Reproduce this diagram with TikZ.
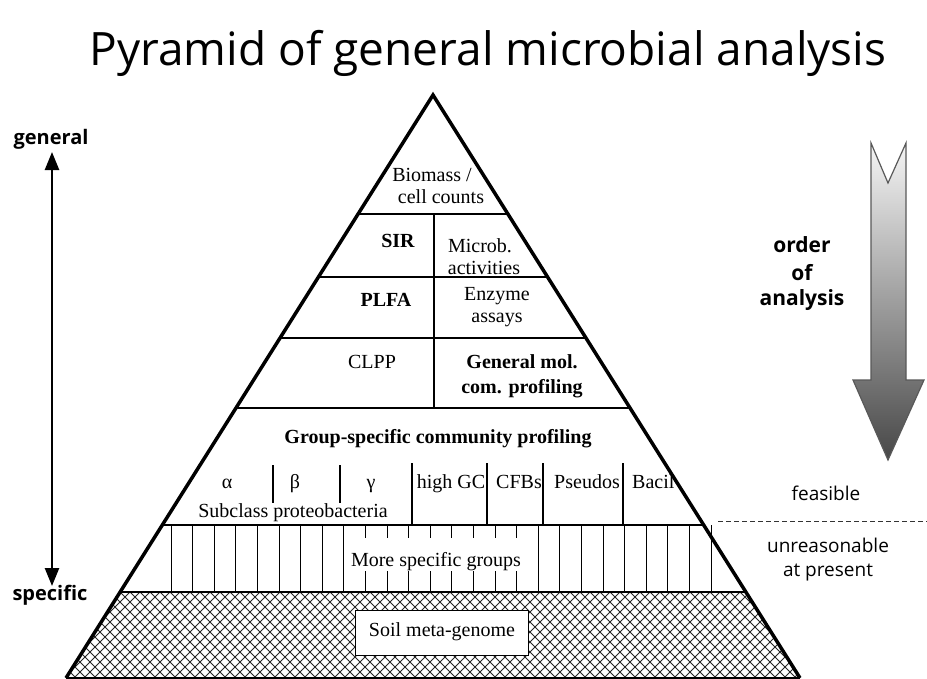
\documentclass[tikz,border=0pt]{standalone}
\usepackage{fontspec}
\setmainfont{Liberation Serif}
\newfontfamily\comicfont{Open Sans}
\usetikzlibrary{arrows.meta}
\begin{document}
\begin{tikzpicture}[x=1pt,y=-1pt,
  txt/.style={font=\fontsize{20}{22}\selectfont, inner sep=0pt, anchor=base},
  btxt/.style={font=\fontsize{20}{22}\selectfont\bfseries, inner sep=0pt, anchor=base},
  ctxt/.style={font=\comicfont\fontsize{19}{21}\selectfont, inner sep=0pt, anchor=base},
  cbtxt/.style={font=\comicfont\fontsize{20}{22}\selectfont\bfseries, inner sep=0pt, anchor=base},
  pedge/.style={line width=3.5pt, line join=miter},
  rule/.style={line width=1.3pt},
  thinrule/.style={line width=1pt},
  hatch/.style={line width=0.8pt, black!85},
]
\useasboundingbox[fill=white] (0,0) rectangle (927,678);

% title
\node[anchor=base, inner sep=0pt, font=\comicfont\fontsize{46}{50}\selectfont] (title) at (488,65) {Pyramid of general microbial analysis};

% pyramid corners
\coordinate (apex) at (433,95);
\coordinate (bl) at (66,678);
\coordinate (br) at (800,678);

% hatched base
\begin{scope}
  \clip (120.1,592) -- (745.9,592) -- (br) -- (bl) -- cycle;
  \foreach \i in {-100,-90,...,900} {
    \draw[hatch] (\i,592) -- ++(90,90);
    \draw[hatch] (\i,592) -- ++(-90,90);
  }
\end{scope}

% horizontal rules
\draw[rule] (358.1,214) -- (507.9,214);
\draw[rule] (318.4,277) -- (547.6,277);
\draw[rule] (280.0,338) -- (586.0,338);
\draw[rule] (236.0,408) -- (630.0,408);
\draw[line width=1.6pt] (162.3,525) -- (703.7,525);
\draw[line width=2.2pt] (120.1,592) -- (745.9,592);

% central divider
\draw[rule] (434,214) -- (434,408);

% group-specific dividers
\draw[rule] (273,465) -- (273,503);
\draw[rule] (340,465) -- (340,503);
\foreach \x in {412,487,543,623} { \draw[rule] (\x,463) -- (\x,525); }

% more specific groups: vertical lines
\foreach \k in {0,...,25} { \draw[thinrule] ({171+21.6*\k},525) -- ({171+21.6*\k},592); }

% texts inside pyramid
\begin{scope}
  \clip (apex) -- (br) -- (bl) -- cycle;
  \node[txt] (bio1) at (432,181) {Biomass /};
  \node[txt] (bio2) at (441,203) {cell counts};
  \node[btxt] (sir) at (398,247) {SIR};
  \node[txt] (mic1) at (480,252) {Microb.};
  \node[txt] (mic2) at (484,274) {activities};
  \node[btxt] (plfa) at (386,306) {PLFA};
  \node[txt] (enz1) at (497,300) {Enzyme};
  \node[txt] (enz2) at (497,322) {assays};
  \node[txt] (clpp) at (372,368) {CLPP};
  \node[btxt] (gen1) at (522,368) {General mol.};
  \node[btxt] (gen2) at (522,393) {com. profiling};
  \node[btxt] (grp) at (438,443) {Group-specific community profiling};
  \node[txt] (alpha) at (227,488) {α};
  \node[txt] (beta) at (295,488) {β};
  \node[txt] (gamma) at (371,488) {γ};
  \node[txt] (hgc) at (451,488) {high GC};
  \node[txt] (cfb) at (519,488) {CFBs};
  \node[txt] (pse) at (587,488) {Pseudos};
  \node[txt, anchor=base west] (bac) at (632,488) {Bacil};
  \node[txt] (sub) at (293,517) {Subclass proteobacteria};
  \node[txt, fill=white, inner xsep=7pt, inner ysep=0pt, text height=28pt, text depth=5pt] (msg) at (436,566) {More specific groups};
\end{scope}

\node[txt, draw, line width=1pt, fill=white, inner xsep=13pt, inner ysep=0pt, text height=26pt, text depth=19pt] (soil) at (442,636) {Soil meta-genome};

% pyramid outline
\draw[pedge] (bl) -- (apex) -- (br);
\draw[line width=2pt] (bl) -- (br);

% left arrow
\node[cbtxt] (general) at (51,144) {general};
\node[cbtxt] (specific) at (50,600) {specific};
\coordinate (atop) at (52,152);
\coordinate (abot) at (52,586);
\draw[line width=2.5pt, {Triangle[width=14pt,length=18pt]}-{Triangle[width=14pt,length=18pt]}] (atop) -- (abot);

% right arrow
\path[draw=black!65, line width=1.2pt, top color=black!4, middle color=black!25, bottom color=black!72]
  (871,143) -- (888,183) -- (906,143) -- (906,380) -- (924,380) -- (888,460) -- (853,380) -- (871,380) -- cycle;

\node[cbtxt, font=\comicfont\fontsize{21}{23}\selectfont\bfseries] (ord1) at (802,252) {order};
\node[cbtxt, font=\comicfont\fontsize{21}{23}\selectfont\bfseries] (ord2) at (802,280) {of};
\node[cbtxt, font=\comicfont\fontsize{21}{23}\selectfont\bfseries] (ord3) at (802,305) {analysis};
\node[ctxt] (feas) at (826,500) {feasible};
\node[ctxt] (unr1) at (828,552) {unreasonable};
\node[ctxt] (unr2) at (828,576) {at present};
\coordinate (d1) at (718,521);
\coordinate (d2) at (927,521);
\draw[dash pattern=on 5pt off 3pt, line width=1pt, black!80] (d1) -- (d2);
\end{tikzpicture}
\end{document}
